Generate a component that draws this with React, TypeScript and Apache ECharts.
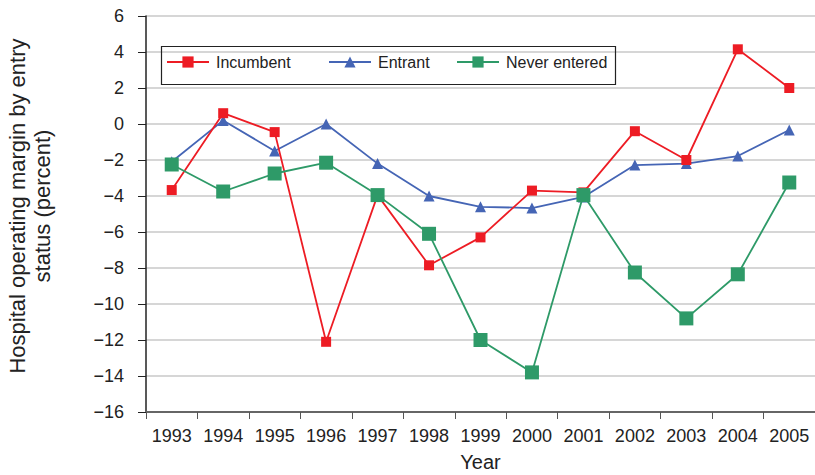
import React, { useEffect, useRef } from "react";
import * as echarts from "echarts";

const years = ["1993","1994","1995","1996","1997","1998","1999","2000","2001","2002","2003","2004","2005"];
const incumbent = [-3.67, 0.6, -0.45, -12.1, -3.95, -7.85, -6.3, -3.7, -3.8, -0.4, -2.0, 4.15, 2.0];
const entrant = [-2.1, 0.2, -1.5, 0.0, -2.2, -4.0, -4.6, -4.67, -4.05, -2.28, -2.2, -1.78, -0.33];
const neverEntered = [-2.25, -3.75, -2.75, -2.15, -3.95, -6.1, -12.0, -13.8, -3.95, -8.25, -10.8, -8.35, -3.25];
const seriesNames = ["Incumbent", "Entrant", "Never entered"];

const FONT = "Liberation Sans, Arial, Helvetica, sans-serif";

export default function App() {
  const ref = useRef<HTMLDivElement>(null);
  useEffect(() => {
    if (!ref.current) return;
    const chart = echarts.init(ref.current, undefined, { renderer: "svg" });
    const legendLefts = [166, 328, 456];
    chart.setOption({
      animation: false,
      backgroundColor: "#ffffff",
      textStyle: { fontFamily: FONT },
      grid: { left: 146, right: 0, top: 16, bottom: 63, containLabel: false, outerBoundsMode: "none" },
      legend: seriesNames.map((n, i) => ({
        left: legendLefts[i],
        top: 54,
        padding: 0,
        itemWidth: 42,
        itemHeight: 14,
        itemGap: 0,
        textStyle: { fontFamily: FONT, fontSize: 16, color: "#222", padding: [0, 0, 0, 2] },
        data: [n],
      })),
      graphic: [
        {
          type: "rect",
          left: 159,
          top: 44,
          shape: { width: 454, height: 38 },
          style: { fill: "none", stroke: "#222", lineWidth: 1.2 },
          z: 10,
        },
      ],
      xAxis: {
        type: "category",
        data: years,
        boundaryGap: true,
        name: "Year",
        nameLocation: "middle",
        nameGap: 40,
        nameTextStyle: { fontFamily: FONT, fontSize: 20, color: "#222" },
        axisLine: { show: true, onZero: false, lineStyle: { color: "#666", width: 2 } },
        axisTick: { show: true, length: 7, interval: 0, lineStyle: { color: "#555", width: 1 } },
        axisLabel: { fontFamily: FONT, fontSize: 18, color: "#222", margin: 15, interval: 0 },
        splitLine: { show: false },
      },
      yAxis: {
        type: "value",
        min: -16,
        max: 6,
        interval: 2,
        name: "Hospital operating margin by entry\nstatus (percent)",
        nameLocation: "middle",
        nameGap: 91,
        nameRotate: 90,
        nameTextStyle: { fontFamily: FONT, fontSize: 22, color: "#222", lineHeight: 25, padding: [0, 0, 0, 16] },
        axisLine: { show: true, lineStyle: { color: "#222", width: 1.5 } },
        axisTick: { show: true, length: 8, lineStyle: { color: "#222", width: 1 } },
        axisLabel: {
          fontFamily: FONT,
          fontSize: 18,
          color: "#222",
          margin: 22,
          formatter: (v: number) => (v < 0 ? "\u2212" + Math.abs(v) : String(v)),
        },
        splitLine: { show: true, lineStyle: { color: "#d6d6d6", width: 2 } },
      },
      series: [
        {
          name: "Incumbent",
          type: "line",
          data: incumbent,
          symbol: "rect",
          symbolSize: 10,
          itemStyle: { color: "#ed1c24" },
          lineStyle: { color: "#ed1c24", width: 1.8 },
          z: 3,
        },
        {
          name: "Entrant",
          type: "line",
          data: entrant,
          symbol: "triangle",
          symbolSize: 11,
          itemStyle: { color: "#4565b5" },
          lineStyle: { color: "#4565b5", width: 1.8 },
          z: 2,
        },
        {
          name: "Never entered",
          type: "line",
          data: neverEntered,
          symbol: "rect",
          symbolSize: 14,
          itemStyle: { color: "#2e9a68" },
          lineStyle: { color: "#2e9a68", width: 1.8 },
          z: 4,
        },
      ],
    });
    return () => chart.dispose();
  }, []);
  return (
    <div
      ref={ref}
      style={{ position: "fixed", left: 0, top: 0, width: 815, height: 475 }}
    />
  );
}
